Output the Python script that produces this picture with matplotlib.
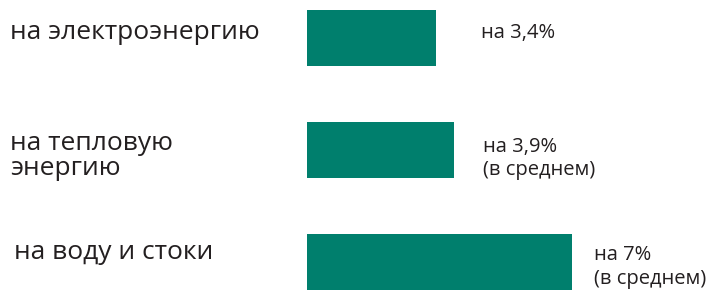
import matplotlib
matplotlib.use("Agg")
import matplotlib.pyplot as plt
from matplotlib.transforms import blended_transform_factory

categories = ["на электроэнергию", "на тепловую\nэнергию", "на воду и стоки"]
values = [3.4, 3.9, 7.0]
value_labels = ["на 3,4%", "на 3,9%\n(в среднем)", "на 7%\n(в среднем)"]

W, H, DPI = 718, 290, 100
fig = plt.figure(figsize=(W / DPI, H / DPI), dpi=DPI)
ax = fig.add_axes([0, 0, 1, 1])

x0_px = 307.0
scale = 37.8
ax.set_xlim(-x0_px / scale, (W - x0_px) / scale)
spacing = 112.0
c0 = 37.5
ax.set_ylim((H - c0) / spacing, -c0 / spacing)
ax.axis("off")

color = "#007F6D"
ypos = list(range(len(values)))
ax.barh(ypos, values, height=0.5, color=color, left=0)

trans = blended_transform_factory(fig.transFigure, ax.transData)
txtc = "#231F20"
left_x = [10, 10, 14]
left_dy = [-0.045, 0.06, -0.08]
for i, lab in enumerate(categories):
    ax.text(left_x[i] / W, i + left_dy[i], lab, transform=trans, ha="left", va="center",
            fontsize=19, color=txtc, family="Open Sans", linespacing=1.0)

right_off = [1.2, 0.75, 0.6]
right_dy = [-0.04, 0.08, 0.05]
for i, lab in enumerate(value_labels):
    ax.text(values[i] + right_off[i], i + right_dy[i], lab, ha="left", va="center",
            fontsize=14.5, color=txtc, family="Open Sans", linespacing=1.25)

fig.savefig("out.png", dpi=DPI)
